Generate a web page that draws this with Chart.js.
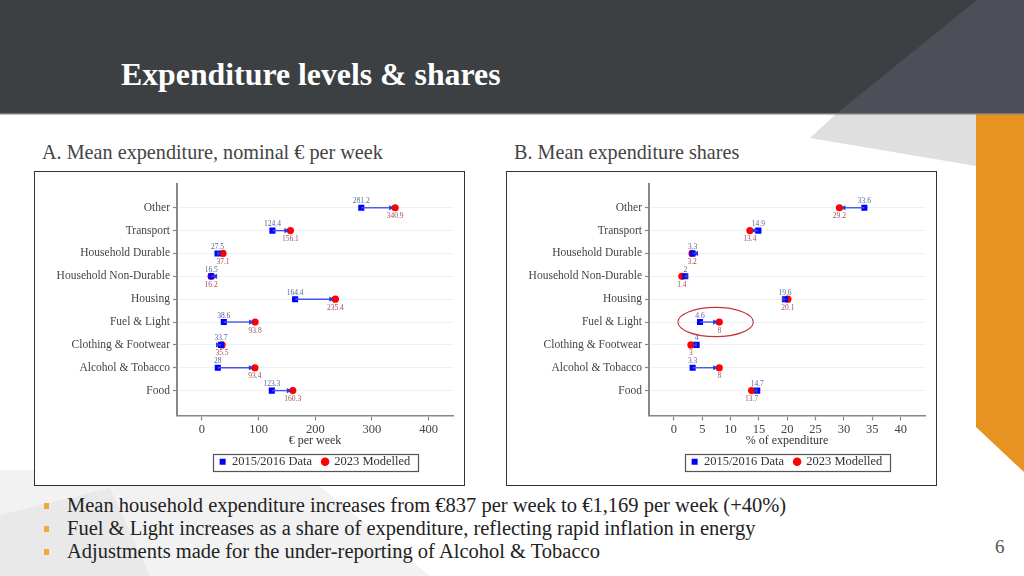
<!DOCTYPE html>
<html>
<head>
<meta charset="utf-8">
<title>Expenditure levels & shares</title>
<script src="https://cdn.jsdelivr.net/npm/chart.js@4.4.1/dist/chart.umd.min.js"></script>
<style>
  body { margin: 0; width: 1024px; height: 576px; overflow: hidden; background: #fff; position: relative; font-family: 'Liberation Serif', serif; }
  #deco { position: absolute; left: 0; top: 0; }
  h1 { position: absolute; left: 121px; top: 57px; margin: 0; font-size: 31.8px; line-height: 36px; color: #fff; font-weight: bold; }
  .sub { position: absolute; top: 140px; font-size: 20.2px; line-height: 24px; color: #444; }
  .caja { position: absolute; top: 171px; width: 431px; height: 315px; border: 1px solid #333; box-sizing: border-box; background: #fff; }
  .caja canvas { display: block; }
  .puntos { position: absolute; left: 0; top: 494px; margin: 0; padding: 0; list-style: none; }
  .puntos li { position: relative; padding-left: 67px; font-size: 20.5px; line-height: 23px; color: #222; white-space: nowrap; }
  .puntos li::before { content: ''; position: absolute; left: 44px; top: 9px; width: 5px; height: 6px; background: #f2a93b; }
  .pagina { position: absolute; left: 995px; top: 536px; font-size: 19px; color: #555; }
</style>
</head>
<body>
<svg id="deco" width="1024" height="576">
  <polygon points="0,470 300,470 430,576 0,576" fill="#f2f2f2"/>
  <polygon points="0,515 110,488 150,576 0,576" fill="#e9e9e9"/>
  <polygon points="836,114 976,114 976,166 810,138" fill="#dfdfdf"/>
  <polygon points="976,114 1024,114 1024,472 976,427" fill="#e69322"/>
  <rect x="0" y="0" width="1024" height="114" fill="#3d4043"/>
  <polygon points="977,0 1024,0 1024,114 836,114" fill="#4c4f57"/>
  <rect x="0" y="113" width="1024" height="1.5" fill="#7a7a7a"/>
</svg>

<h1>Expenditure levels &amp; shares</h1>
<div class="sub" style="left:42px">A. Mean expenditure, nominal € per week</div>
<div class="sub" style="left:514px">B. Mean expenditure shares</div>

<div class="caja" style="left:34px"><canvas id="graficoGasto" width="429" height="313"></canvas></div>
<div class="caja" style="left:506px"><canvas id="graficoCuota" width="429" height="313"></canvas></div>

<ul class="puntos">
  <li>Mean household expenditure increases from €837 per week to €1,169 per week (+40%)</li>
  <li>Fuel &amp; Light increases as a share of expenditure, reflecting rapid inflation in energy</li>
  <li>Adjustments made for the under-reporting of Alcohol &amp; Tobacco</li>
</ul>
<div class="pagina">6</div>

<script>
// datos, de arriba abajo
const categorias = ['Other', 'Transport', 'Household Durable', 'Household Non-Durable', 'Housing',
    'Fuel & Light', 'Clothing & Footwear', 'Alcohol & Tobacco', 'Food'];
const gasto2016 = [281.2, 124.4, 27.5, 16.5, 164.4, 38.6, 33.7, 28, 123.3];
const gasto2023 = [340.9, 156.1, 37.1, 16.2, 235.4, 93.8, 35.5, 93.4, 160.3];
const cuota2016 = [33.6, 14.9, 3.3, 2, 19.6, 4.6, 4, 3.3, 14.7];
const cuota2023 = [29.2, 13.4, 3.2, 1.4, 20.1, 8, 3, 8, 13.7];
const ticksGasto = [0, 100, 200, 300, 400];
const ticksCuota = [0, 5, 10, 15, 20, 25, 30, 35, 40];
const series = ['2015/2016 Data', '2023 Modelled'];

const fuente = "'Liberation Serif', serif";

// flechas entre los dos puntos de cada categoria
const pluginFlechas = {
    id: 'flechas',
    afterDatasetsDraw(chart) {
        const antes = chart.getDatasetMeta(0).data;
        const despues = chart.getDatasetMeta(1).data;
        const ctx = chart.ctx;
        ctx.save();
        antes.forEach((p, i) => {
            const q = despues[i];
            const dir = Math.sign(q.x - p.x) || 1;
            const punta = q.x - dir * 1;
            ctx.strokeStyle = '#4353f0';
            ctx.lineWidth = 1.4;
            ctx.beginPath();
            ctx.moveTo(p.x, p.y);
            ctx.lineTo(punta - dir * 3, q.y);
            ctx.stroke();
            ctx.fillStyle = '#2c3ad0';
            ctx.beginPath();
            ctx.moveTo(punta, q.y);
            ctx.lineTo(punta - dir * 5, q.y - 2.6);
            ctx.lineTo(punta - dir * 5, q.y + 2.6);
            ctx.closePath();
            ctx.fill();
        });
        ctx.restore();
    }
};

// etiquetas de valor: 2015/2016 encima, 2023 debajo
const pluginEtiquetas = {
    id: 'etiquetas',
    afterDatasetsDraw(chart) {
        const ctx = chart.ctx;
        ctx.save();
        ctx.font = '7.5px ' + fuente;
        ctx.textAlign = 'center';
        ctx.textBaseline = 'middle';
        chart.getDatasetMeta(0).data.forEach((p, i) => {
            ctx.fillStyle = '#56669a';
            ctx.fillText(String(chart.data.datasets[0].data[i].x), p.x, p.y - 6.5);
        });
        chart.getDatasetMeta(1).data.forEach((q, i) => {
            ctx.fillStyle = '#a24d5a';
            ctx.fillText(String(chart.data.datasets[1].data[i].x), q.x, q.y + 8.5);
        });
        ctx.restore();
    }
};

// marco alrededor de la leyenda
const pluginMarco = {
    id: 'marcoLeyenda',
    afterDraw(chart) {
        const cajas = chart.legend && chart.legend.legendHitBoxes;
        if (!cajas || !cajas.length) return;
        const x0 = Math.min(...cajas.map(c => c.left)) - 7;
        const x1 = Math.max(...cajas.map(c => c.left + c.width)) + 7;
        const y0 = Math.min(...cajas.map(c => c.top)) - 2;
        const y1 = Math.max(...cajas.map(c => c.top + c.height)) + 2;
        const ctx = chart.ctx;
        ctx.save();
        ctx.strokeStyle = '#555';
        ctx.lineWidth = 1.2;
        ctx.strokeRect(Math.round(x0) + 0.5, Math.round(y0) + 0.5, Math.round(x1 - x0), Math.round(y1 - y0));
        ctx.restore();
    }
};

// elipse roja que marca Fuel & Light en el panel B
const elipseDesde = 0.7, elipseHasta = 14, elipseFila = 'Fuel & Light', elipseAlto = 0.64;
const pluginElipse = {
    id: 'elipse',
    afterDraw(chart) {
        const x = chart.scales.x, y = chart.scales.y;
        const fila = categorias.indexOf(elipseFila);
        const xa = x.getPixelForValue(elipseDesde), xb = x.getPixelForValue(elipseHasta);
        const yc = y.getPixelForValue(fila);
        const ry = Math.abs(y.getPixelForValue(fila + elipseAlto) - yc);
        const ctx = chart.ctx;
        ctx.save();
        ctx.strokeStyle = '#c8343a';
        ctx.lineWidth = 1.1;
        ctx.beginPath();
        ctx.ellipse((xa + xb) / 2, yc, (xb - xa) / 2, ry, 0, 0, Math.PI * 2);
        ctx.stroke();
        ctx.restore();
    }
};

function crearDumbbell(id, antes, despues, ticks, xMin, xMax, tituloX, extras) {
    const ctx = document.getElementById(id).getContext('2d');
    new Chart(ctx, {
        type: 'scatter',
        data: {
            datasets: [{
                label: series[0],
                data: antes.map((v, i) => ({ x: v, y: i })),
                pointStyle: 'rect',
                pointRadius: 4.3,
                pointHoverRadius: 4.3,
                backgroundColor: '#0000ff',
                borderColor: '#0000ff',
                borderWidth: 0
            }, {
                label: series[1],
                data: despues.map((v, i) => ({ x: v, y: i })),
                pointStyle: 'circle',
                pointRadius: 3.6,
                pointHoverRadius: 3.6,
                backgroundColor: '#ff0000',
                borderColor: '#ff0000',
                borderWidth: 0
            }]
        },
        options: {
            responsive: false,
            animation: false,
            layout: { padding: { top: 12, right: 11, bottom: 7, left: 0 } },
            plugins: {
                tooltip: { enabled: false },
                legend: {
                    position: 'bottom',
                    fullSize: false,
                    labels: {
                        usePointStyle: true,
                        boxWidth: 6,
                        boxHeight: 6,
                        padding: 10,
                        color: '#333',
                        font: { family: fuente, size: 12.5 }
                    }
                }
            },
            scales: {
                x: {
                    type: 'linear',
                    min: xMin,
                    max: xMax,
                    afterBuildTicks: s => { s.ticks = ticks.map(v => ({ value: v })); },
                    afterFit: s => { s.height = 30; },
                    grid: { drawOnChartArea: false, tickLength: 5, tickColor: '#888', tickWidth: 1.2 },
                    border: { color: '#888', width: 1.6 },
                    ticks: { color: '#444', padding: 2, font: { family: fuente, size: 12.5 } },
                    title: {
                        display: true,
                        text: tituloX,
                        color: '#333',
                        padding: { top: 0, bottom: -3 },
                        font: { family: fuente, size: 12 }
                    }
                },
                y: {
                    type: 'linear',
                    reverse: true,
                    min: -1.04,
                    max: categorias.length + 0.09,
                    afterBuildTicks: s => { s.ticks = categorias.map((c, i) => ({ value: i })); },
                    afterFit: s => { s.width = 142; },
                    grid: { color: '#eef0f3', lineWidth: 1, tickLength: 4, tickColor: '#888', tickWidth: 1.2 },
                    border: { color: '#888', width: 2 },
                    ticks: {
                        color: '#444',
                        padding: 3,
                        font: { family: fuente, size: 11.5 },
                        callback: v => categorias[v]
                    }
                }
            }
        },
        plugins: [pluginFlechas, pluginEtiquetas, pluginMarco].concat(extras || [])
    });
}

document.addEventListener('DOMContentLoaded', function() {
    crearDumbbell('graficoGasto', gasto2016, gasto2023, ticksGasto, -44, 443, '€ per week');
    crearDumbbell('graficoCuota', cuota2016, cuota2023, ticksCuota, -4.4, 44.3, '% of expenditure', [pluginElipse]);
});
</script>
</body>
</html>
